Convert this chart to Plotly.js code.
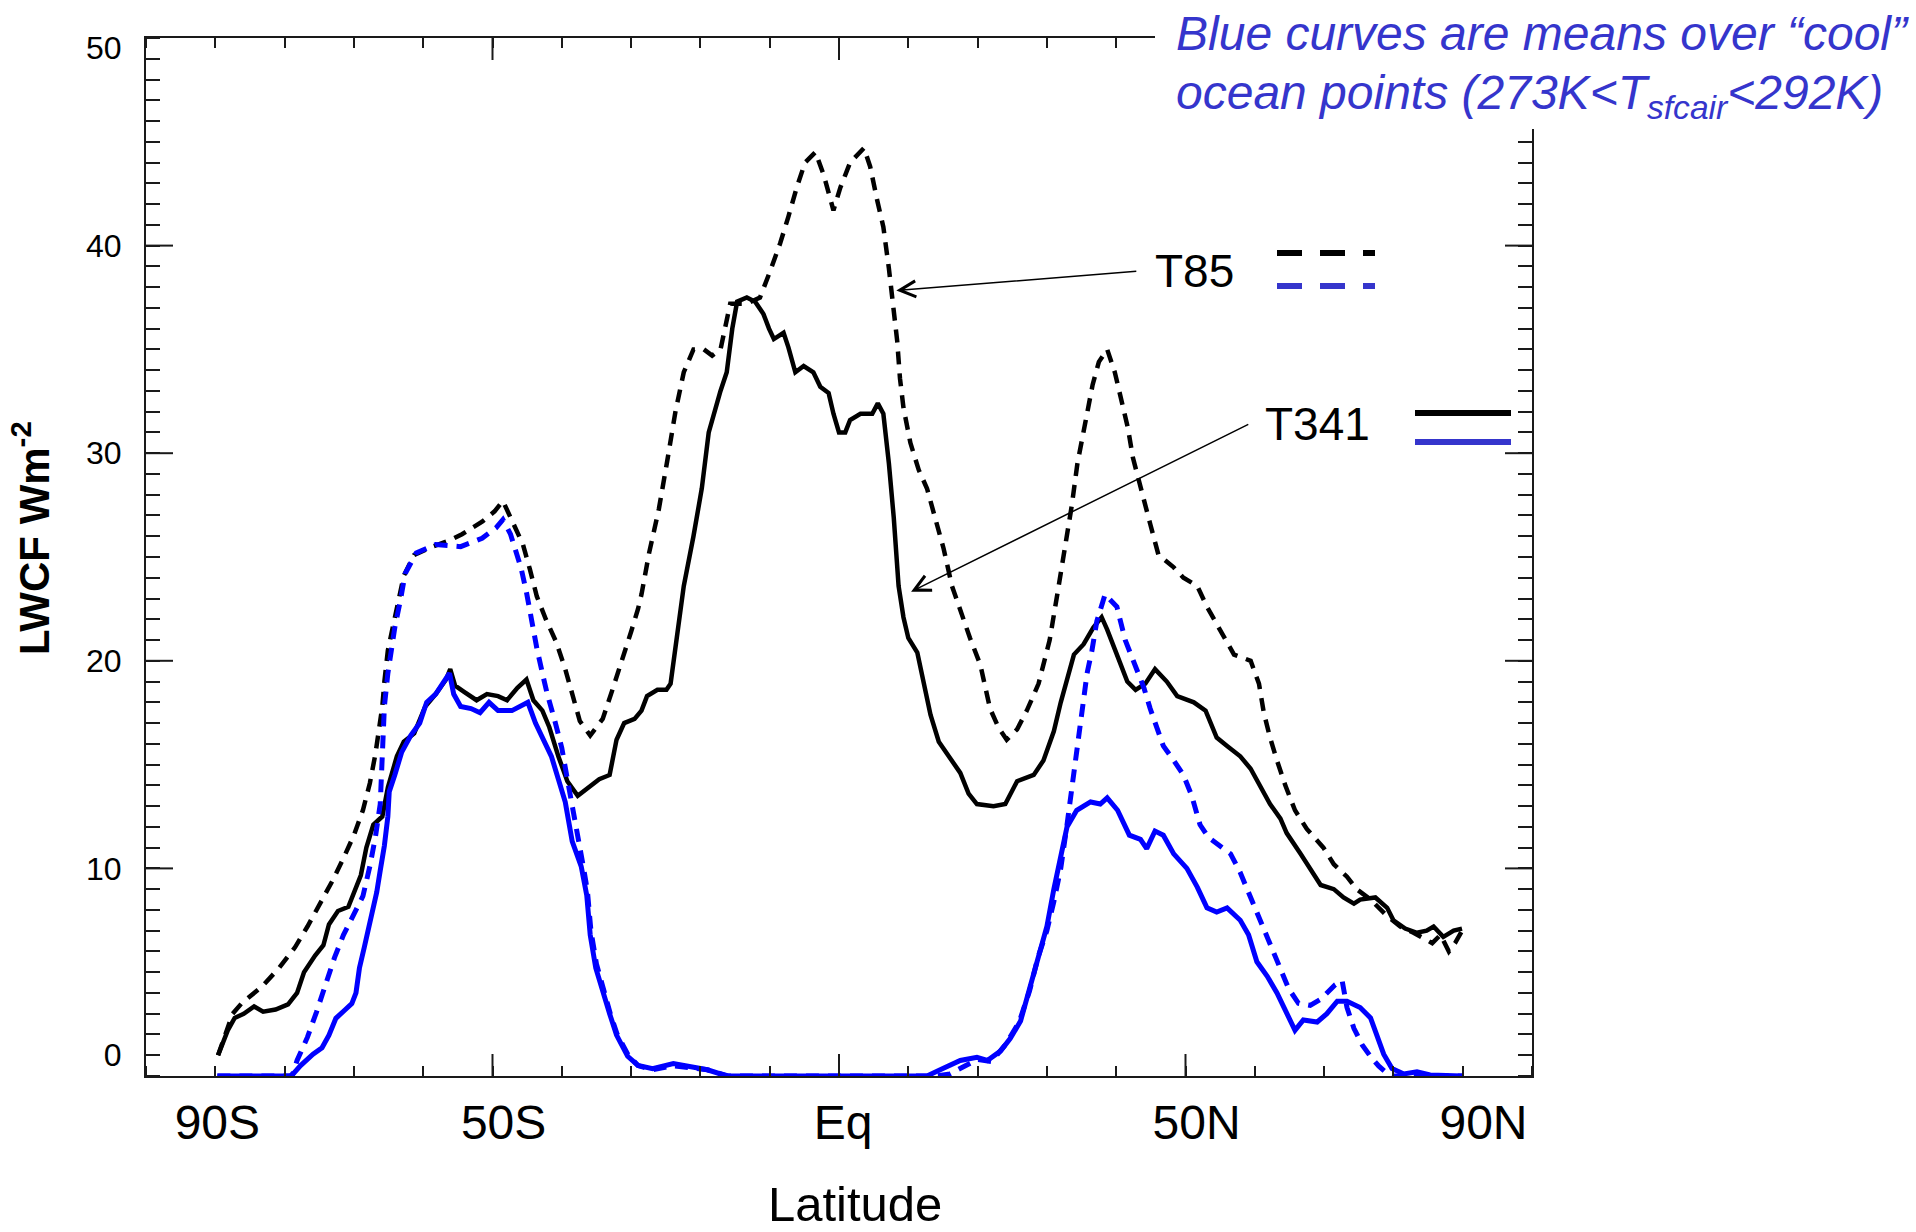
<!DOCTYPE html>
<html>
<head>
<meta charset="utf-8">
<script src="https://cdn.plot.ly/plotly-3.0.1.min.js"></script>
<style>
  html, body { margin: 0; padding: 0; background: #ffffff; }
  #chart { width: 1916px; height: 1232px; }
</style>
</head>
<body>
<div id="chart"></div>
<script>
// ---------------- data (latitude in degrees, LWCF in W m-2) ----------------
const latT341 = [-89.6,-88.2,-87.2,-85.9,-84.4,-83.1,-81.3,-79.5,-78.2,-77.2,-75.6,-74.4,-73.6,-72.3,-70.8,-70.0,-69.0,-68.2,-67.2,-65.9,-65.1,-63.8,-62.8,-61.3,-59.7,-58.2,-56.7,-56.1,-55.4,-54.1,-52.3,-50.8,-49.2,-47.9,-46.4,-45.1,-44.1,-42.8,-41.8,-40.5,-39.2,-37.7,-36.2,-34.6,-33.1,-32.1,-31.0,-29.5,-28.5,-27.7,-26.2,-24.9,-24.3,-23.4,-22.4,-21.0,-19.8,-18.8,-18.1,-17.1,-16.2,-15.4,-14.7,-13.3,-12.1,-10.9,-10.1,-9.4,-8.0,-7.3,-6.3,-5.1,-3.7,-2.7,-1.5,-0.8,0.0,0.9,1.6,3.1,4.8,5.6,6.4,7.2,7.9,8.6,9.3,10.0,11.3,12.2,13.2,14.4,15.8,17.5,18.7,19.9,22.3,24.0,25.7,28.1,29.5,31.0,32.0,32.9,33.9,35.3,36.7,37.9,38.7,40.1,41.6,42.8,44.2,45.6,47.3,48.8,51.2,52.9,54.5,56.0,57.9,59.4,60.8,62.2,63.7,64.6,66.6,68.0,69.5,71.4,72.8,74.3,75.2,77.4,79.1,80.0,81.7,83.4,84.8,85.8,87.2,88.7,89.9];
const lwcfT341 = [1.0,2.2,2.8,3.0,3.35,3.1,3.2,3.45,4.0,5.0,5.8,6.3,7.3,7.95,8.15,8.86,9.67,11.0,12.1,12.5,13.9,15.4,16.1,16.5,17.8,18.4,19.1,19.6,18.8,18.5,18.1,18.4,18.3,18.1,18.7,19.1,18.1,17.6,16.8,15.4,14.2,13.5,13.9,14.3,14.5,16.2,17.0,17.2,17.6,18.3,18.6,18.6,18.9,21.2,23.6,26.0,28.3,31.0,31.9,33.0,33.9,36.0,37.3,37.5,37.3,36.7,36.0,35.5,35.8,35.1,33.9,34.2,33.9,33.2,32.9,31.9,31.0,31.0,31.6,31.9,31.9,32.4,31.9,29.5,26.9,23.6,22.1,21.1,20.4,18.9,17.4,16.1,15.4,14.6,13.6,13.1,13.0,13.1,14.2,14.5,15.2,16.6,18.0,19.1,20.3,20.8,21.6,22.1,21.5,20.3,19.0,18.6,18.9,19.6,19.0,18.3,18.0,17.6,16.3,15.9,15.4,14.8,13.9,13.1,12.4,11.7,10.7,10.0,9.2,9.0,8.6,8.3,8.5,8.6,8.1,7.5,7.1,6.9,7.0,7.2,6.7,7.0,7.1];

const latT85 = [-89.6,-88.6,-87.5,-86.2,-83.3,-80.8,-78.5,-76.7,-74.9,-73.1,-71.5,-70.0,-68.7,-67.7,-66.9,-66.4,-65.9,-65.6,-65.1,-64.4,-63.6,-62.8,-61.3,-58.7,-56.2,-54.4,-51.5,-49.7,-48.5,-47.2,-45.6,-44.6,-43.6,-42.3,-40.8,-39.5,-38.5,-37.4,-35.9,-34.1,-32.6,-31.3,-30.0,-29.0,-28.5,-27.4,-26.0,-24.8,-23.6,-22.4,-21.0,-19.5,-18.3,-17.1,-16.4,-15.7,-13.3,-11.4,-9.9,-8.5,-7.3,-6.1,-4.9,-3.4,-2.2,-0.8,0.2,1.6,3.6,4.5,5.5,6.4,7.2,7.9,8.4,8.8,9.3,10.3,11.5,12.7,13.9,15.1,16.3,17.5,18.9,20.4,21.8,23.0,24.2,25.7,27.1,28.8,30.4,31.5,32.6,33.6,34.4,35.4,36.6,37.5,38.7,39.8,40.7,41.7,42.4,43.5,44.9,46.1,48.3,49.7,51.7,53.1,55.0,57.0,59.4,60.6,61.3,62.2,63.2,64.4,65.8,67.5,69.9,71.4,73.3,74.7,76.7,79.1,81.0,82.9,85.6,86.8,88.0,88.9,89.9];
const lwcfT85 = [1.0,2.0,3.0,3.5,4.3,5.2,6.2,7.2,8.3,9.4,10.5,11.6,12.8,14.1,15.5,16.7,17.8,19.0,20.5,21.6,22.9,24.1,25.1,25.5,25.8,26.1,26.7,27.2,27.7,26.7,25.6,24.4,23.1,22.0,20.9,19.6,18.4,17.1,16.4,17.2,18.7,20.0,21.4,22.5,23.2,25.2,27.3,29.6,32.0,33.9,35.0,35.0,34.7,35.0,36.0,37.2,37.2,37.5,38.8,40.1,41.4,42.8,44.0,44.5,43.4,41.7,42.8,44.0,44.7,43.8,42.2,40.9,38.9,36.9,35.4,33.6,32.2,30.5,29.2,28.3,26.8,25.4,23.6,22.4,21.1,19.8,17.7,16.8,16.2,16.7,17.6,18.9,21.0,23.2,25.4,27.5,29.5,31.2,33.3,34.4,35.0,33.9,32.5,31.2,29.8,28.3,26.6,25.1,24.5,24.0,23.6,22.6,21.5,20.3,20.0,18.9,17.5,16.3,15.2,14.0,12.8,11.9,11.0,10.2,9.6,9.0,8.5,7.7,7.2,6.9,6.4,6.8,6.0,6.4,7.0];

const latT341cool = [-89.7,-79.2,-78.7,-77.7,-75.9,-74.6,-73.6,-72.6,-71.3,-70.3,-69.7,-69.2,-68.5,-67.4,-66.7,-66.2,-65.6,-65.1,-64.9,-64.1,-63.1,-61.8,-60.5,-59.5,-58.2,-57.2,-56.2,-55.6,-54.6,-53.1,-51.8,-50.5,-49.2,-47.2,-45.9,-44.9,-43.8,-42.6,-41.5,-40.5,-39.5,-38.5,-37.2,-36.4,-35.9,-35.1,-34.1,-33.1,-32.1,-30.5,-29.0,-26.9,-23.9,-21.0,-19.0,-16.2,12.7,14.6,17.5,19.9,21.4,23.3,24.7,26.2,27.4,28.6,30.0,31.0,32.0,32.9,34.3,36.3,37.7,38.7,40.2,41.9,43.5,44.4,45.6,46.8,48.3,50.2,51.7,53.1,54.5,56.0,57.9,59.1,60.3,61.8,63.2,64.6,65.8,67.0,69.0,70.4,71.9,73.3,75.2,76.7,77.6,78.6,79.8,81.5,83.4,85.3,89.9];
const lwcfT341cool = [0,0,0.13,0.5,1.05,1.36,1.97,2.78,3.18,3.49,4.0,5.2,6.2,7.85,8.86,9.9,11.1,12.5,13.7,14.5,15.6,16.4,17.0,18.0,18.4,18.9,19.4,18.4,17.8,17.7,17.5,18.0,17.6,17.6,17.8,18.0,17.0,16.2,15.4,14.3,13.2,11.3,10.1,8.7,6.8,5.2,4.0,3.0,1.97,0.95,0.51,0.35,0.6,0.45,0.3,0,0,0.3,0.75,0.9,0.75,1.2,1.8,2.65,4.1,5.6,7.2,9.0,10.7,12.0,12.8,13.2,13.1,13.4,12.8,11.6,11.4,10.95,11.8,11.6,10.7,10.0,9.1,8.1,7.9,8.1,7.5,6.8,5.5,4.8,4.0,3.0,2.2,2.7,2.6,3.0,3.6,3.6,3.3,2.8,1.9,1.05,0.36,0.1,0.2,0.05,0];

const latT85cool = [-89.7,-78.9,-78.2,-76.7,-75.4,-74.1,-72.8,-71.5,-70.0,-68.7,-67.7,-66.9,-66.2,-65.9,-65.6,-65.1,-64.6,-64.1,-63.3,-62.6,-61.0,-58.2,-54.6,-51.5,-49.5,-48.5,-47.4,-46.7,-45.9,-45.1,-44.4,-43.6,-42.8,-42.1,-41.0,-40.0,-39.2,-38.5,-37.7,-36.9,-36.3,-35.8,-35.0,-34.0,-33.0,-32.0,-30.4,-29.0,-26.9,-24.0,-21.0,-19.0,-16.0,14.0,16.0,18.0,20.0,22.0,24.0,26.0,27.5,28.7,30.0,31.0,32.0,32.9,33.9,34.6,35.1,35.8,36.5,37.2,38.4,40.1,41.3,42.8,44.0,44.9,45.9,46.8,48.3,49.7,50.9,52.1,53.3,55.0,56.5,57.9,59.4,60.8,62.2,63.7,64.9,66.3,68.0,69.5,70.7,71.6,72.6,73.3,74.3,75.5,76.7,77.9,79.1,80.0,89.9];
const lwcfT85cool = [0,0,0.75,1.87,3.08,4.4,5.7,6.8,7.75,8.66,10.1,11.5,13.1,15.4,17.8,19.4,20.5,21.6,22.9,24.2,25.2,25.6,25.5,25.9,26.4,26.8,26.1,25.3,24.5,23.3,22.0,20.6,19.4,18.4,17.1,15.8,14.3,13.1,11.7,10.1,8.9,7.0,5.4,4.1,3.0,2.0,1.0,0.5,0.3,0.5,0.4,0.3,0,0,0.1,0.45,0.8,0.7,1.5,2.6,4.1,5.7,7.0,8.4,10.0,12.1,14.5,16.3,17.7,19.4,20.5,21.9,23.2,22.6,21.0,19.8,18.7,17.7,16.8,15.9,15.2,14.5,13.5,12.1,11.5,11.1,10.7,9.8,8.6,7.5,6.3,5.1,4.2,3.5,3.4,3.7,4.1,4.4,4.6,3.3,2.3,1.5,0.94,0.47,0.12,0,0];

// tick labels (label positions as they sit in the original figure)
const latTickVals = [-89.7, -48.4, 0.6, 51.6, 93.0];
const latTickText = ['90S', '50S', 'Eq', '50N', '90N'];
const latLongTicks = [-50, 0, 50];
const lwcfTickVals = [1, 10, 20, 30, 40, 49.55];
const lwcfTickText = ['0', '10', '20', '30', '40', '50'];
const lwcfLongTicks = [10, 20, 30, 40];

// ---------------- figure geometry (pixels) ----------------
const W = 1916, H = 1232;
const M = { l: 146, r: 384, t: 38, b: 156 };
const PW = W - M.l - M.r, PH = H - M.t - M.b;
const px = v => (v - M.l) / PW;          // pixel x -> paper x
const py = v => (H - M.b - v) / PH;      // pixel y -> paper y

const AX = '#1a1a1a';
const BLACK = '#000000';
const BLUE = '#0000ff';
const TEXTBLUE = '#3535cc';
const FONT = 'Liberation Sans, Arial, Helvetica, sans-serif';

const traces = [
  { x: latT85, y: lwcfT85, name: 'T85', mode: 'lines',
    line: { color: BLACK, width: 4.5, dash: '13px,9px' } },
  { x: latT341, y: lwcfT341, name: 'T341', mode: 'lines',
    line: { color: BLACK, width: 4.5 } },
  { x: latT85cool, y: lwcfT85cool, name: 'T85 cool ocean', mode: 'lines',
    line: { color: BLUE, width: 5, dash: '13px,9px' } },
  { x: latT341cool, y: lwcfT341cool, name: 'T341 cool ocean', mode: 'lines',
    line: { color: BLUE, width: 5 } }
];

const shapes = [];
// long (major) ticks, bottom and top
latLongTicks.forEach(v => {
  shapes.push({ type: 'line', layer: 'above', xref: 'x', yref: 'paper', ysizemode: 'pixel', yanchor: 0,
    x0: v, x1: v, y0: 0, y1: 22, line: { color: AX, width: 2 } });
  shapes.push({ type: 'line', layer: 'above', xref: 'x', yref: 'paper', ysizemode: 'pixel', yanchor: 1,
    x0: v, x1: v, y0: 0, y1: -22, line: { color: AX, width: 2 } });
});
// long (major) ticks, left and right
lwcfLongTicks.forEach(v => {
  shapes.push({ type: 'line', layer: 'above', xref: 'paper', yref: 'y', xsizemode: 'pixel', xanchor: 0,
    x0: 0, x1: 27, y0: v, y1: v, line: { color: AX, width: 2 } });
  shapes.push({ type: 'line', layer: 'above', xref: 'paper', yref: 'y', xsizemode: 'pixel', xanchor: 1,
    x0: 0, x1: -27, y0: v, y1: v, line: { color: AX, width: 2 } });
});
// white box behind the note (covers the frame corner, as in the original)
shapes.push({ type: 'rect', layer: 'above', xref: 'paper', yref: 'paper',
  x0: px(1155), x1: 1.3, y0: py(129), y1: 1.1, fillcolor: '#ffffff', line: { width: 0 } });
// legend samples
shapes.push({ type: 'line', layer: 'above', xref: 'paper', yref: 'paper',
  x0: px(1277), x1: px(1375), y0: py(253), y1: py(253), line: { color: BLACK, width: 6, dash: '25px,18px' } });
shapes.push({ type: 'line', layer: 'above', xref: 'paper', yref: 'paper',
  x0: px(1277), x1: px(1375), y0: py(286), y1: py(286), line: { color: TEXTBLUE, width: 6, dash: '25px,18px' } });
shapes.push({ type: 'line', layer: 'above', xref: 'paper', yref: 'paper',
  x0: px(1415), x1: px(1511), y0: py(413), y1: py(413), line: { color: BLACK, width: 6 } });
shapes.push({ type: 'line', layer: 'above', xref: 'paper', yref: 'paper',
  x0: px(1415), x1: px(1511), y0: py(442), y1: py(442), line: { color: TEXTBLUE, width: 6 } });

const annotations = [
  // labels with arrows (arrow tail bound to the left-middle of the label box)
  { x: 8.27, y: 37.84, ax: 42.9, ay: 38.76, xref: 'x', yref: 'y', axref: 'x', ayref: 'y',
    text: 'T85', xanchor: 'left', yanchor: 'middle', borderpad: 18,
    showarrow: true, arrowhead: 5, arrowsize: 2.1, arrowwidth: 1.5, arrowcolor: BLACK, standoff: 0,
    font: { family: FONT, size: 46, color: BLACK } },
  { x: 10.4, y: 23.33, ax: 59.06, ay: 31.39, xref: 'x', yref: 'y', axref: 'x', ayref: 'y',
    text: 'T341', xanchor: 'left', yanchor: 'middle', borderpad: 16,
    showarrow: true, arrowhead: 5, arrowsize: 2.1, arrowwidth: 1.5, arrowcolor: BLACK, standoff: 0,
    font: { family: FONT, size: 46, color: BLACK } },
  // note
  { x: px(1174), y: py(33), xref: 'paper', yref: 'paper', xanchor: 'left', yanchor: 'middle',
    text: '<i>Blue curves are means over \u201ccool\u201d</i>', showarrow: false,
    font: { family: FONT, size: 48, color: TEXTBLUE } },
  { x: px(1174), y: py(96), xref: 'paper', yref: 'paper', xanchor: 'left', yanchor: 'middle',
    text: '<i>ocean points (273K&lt;T<sub>sfcair</sub>&lt;292K)</i>', showarrow: false,
    font: { family: FONT, size: 48, color: TEXTBLUE } },
  // axis titles
  { x: px(855), y: py(1204), xref: 'paper', yref: 'paper', xanchor: 'center', yanchor: 'middle',
    text: 'Latitude', showarrow: false, borderpad: 0, borderwidth: 0,
    font: { family: FONT, size: 49, color: BLACK } },
  { x: px(31), y: py(538), xref: 'paper', yref: 'paper', xanchor: 'center', yanchor: 'middle',
    text: '<b>LWCF Wm<sup>-2</sup></b>', textangle: -90, showarrow: false,
    font: { family: FONT, size: 42, color: BLACK } }
];

const layout = {
  width: W, height: H,
  margin: M,
  paper_bgcolor: '#ffffff', plot_bgcolor: '#ffffff',
  showlegend: false,
  hovermode: false,
  font: { family: FONT, color: BLACK },
  xaxis: {
    range: [-100, 100], showgrid: false, zeroline: false,
    showline: true, linecolor: AX, linewidth: 2, mirror: 'allticks',
    tickmode: 'array', tickvals: latTickVals, ticktext: latTickText,
    ticks: '', tickwidth: 2, tickcolor: AX,
    minor: { tickmode: 'linear', tick0: 0, dtick: 10, ticks: 'inside', ticklen: 10, tickwidth: 2, tickcolor: AX },
    tickfont: { family: FONT, size: 48, color: BLACK },
    ticklabelstandoff: 3
  },
  yaxis: {
    range: [0, 50], showgrid: false, zeroline: false,
    showline: true, linecolor: AX, linewidth: 2, mirror: 'allticks',
    tickmode: 'array', tickvals: lwcfTickVals, ticktext: lwcfTickText,
    ticks: '', tickwidth: 2, tickcolor: AX,
    minor: { tickmode: 'linear', tick0: 0, dtick: 1, ticks: 'inside', ticklen: 14, tickwidth: 2, tickcolor: AX },
    tickfont: { family: FONT, size: 32, color: BLACK },
    ticklabelstandoff: 16
  },
  shapes: shapes,
  annotations: annotations
};

Plotly.newPlot('chart', traces, layout, { staticPlot: true, displayModeBar: false });
</script>
</body>
</html>
